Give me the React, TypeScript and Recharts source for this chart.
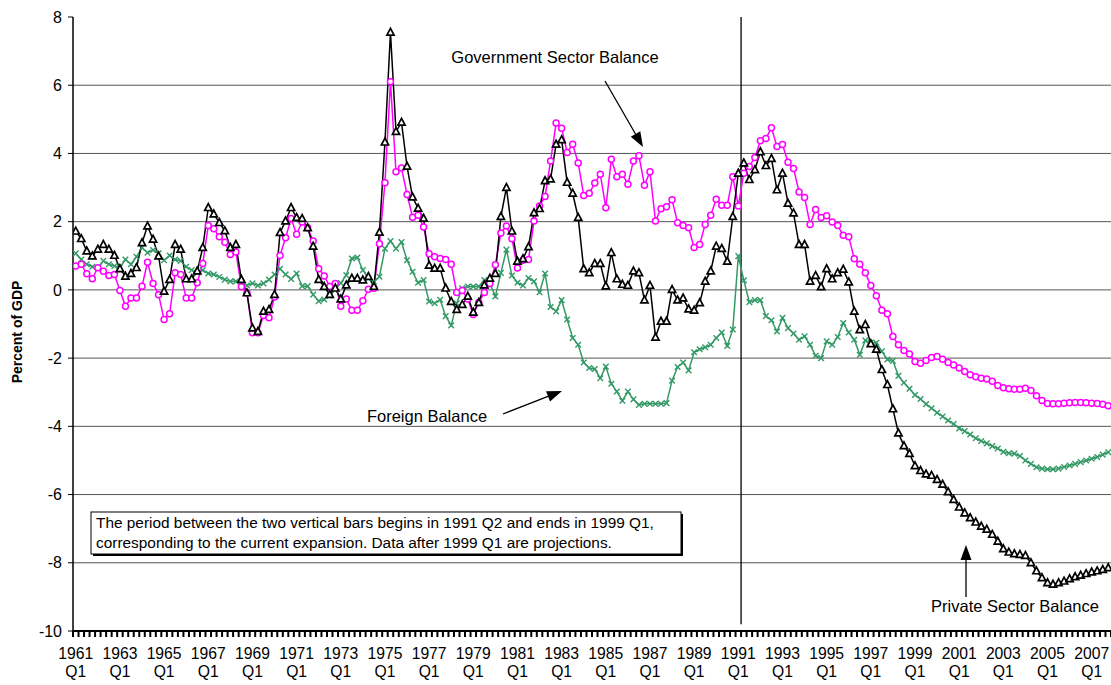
import React from 'react'
import { LineChart, Line, XAxis, YAxis, CartesianGrid, ReferenceLine } from 'recharts'

// Quarterly sector balances, percent of GDP, 1961 Q1 .. 2007 Q4
const START_YEAR = 1961

const PRIVATE_BALANCE = [
  1.72, 1.5, 1.14, 0.99, 1.19, 1.33, 1.19, 1.01, 0.62, 0.4, 0.48, 0.65, 1.38, 1.87, 1.48, 0.99,
  -0.04, 0.3, 1.33, 1.19, 0.32, 0.32, 0.55, 1.24, 2.41, 2.22, 1.97, 1.73, 1.24, 1.33, 0.3, -0.09,
  -1.12, -1.22, -0.63, -0.58, -0.14, 1.68, 2.02, 2.41, 2.12, 2.09, 1.82, 1.28, 0.3, 0.1, -0.14, 0.05,
  -0.27, 0.14, 0.34, 0.34, 0.29, 0.39, 0.1, 1.69, 4.33, 7.55, 4.64, 4.91, 3.62, 2.72, 2.39, 2.1,
  0.72, 0.63, 0.63, 0.05, -0.34, -0.58, -0.43, -0.19, -0.66, -0.37, 0.14, 0.34, 0.48, 2.15, 3.0, 1.72,
  0.84, 0.91, 1.26, 2.26, 2.38, 3.2, 3.25, 4.27, 4.4, 3.15, 2.83, 2.12, 0.62, 0.5, 0.77, 0.77,
  0.11, 1.09, 0.32, 0.16, 0.13, 0.55, 0.5, -0.3, 0.13, -1.39, -0.92, -0.92, 0.01, -0.3, -0.24, -0.56,
  -0.6, -0.38, 0.25, 0.55, 1.28, 1.21, 0.84, 2.15, 3.42, 3.72, 3.23, 3.52, 4.05, 3.64, 3.85, 2.93,
  3.42, 2.54, 2.25, 1.33, 1.33, 0.25, 0.42, 0.09, 0.62, 0.32, 0.5, 0.6, 0.23, -0.63, -1.17, -1.02,
  -1.58, -1.74, -2.34, -2.78, -3.49, -4.2, -4.57, -4.8, -5.16, -5.3, -5.4, -5.44, -5.56, -5.7, -5.92, -6.15,
  -6.37, -6.54, -6.68, -6.81, -6.93, -7.02, -7.17, -7.37, -7.59, -7.69, -7.74, -7.76, -7.79, -8.0, -8.24, -8.44,
  -8.59, -8.63, -8.59, -8.54, -8.47, -8.41, -8.37, -8.32, -8.27, -8.24, -8.2, -8.15,
]

const GOVERNMENT_BALANCE = [
  0.7, 0.75, 0.47, 0.33, 0.65, 0.55, 0.42, 0.45, -0.02, -0.48, -0.24, -0.24, 0.11, 0.81, 0.19, -0.14,
  -0.87, -0.7, 0.5, 0.45, -0.24, -0.24, 0.21, 0.77, 1.89, 1.79, 1.56, 1.4, 1.04, 1.11, 0.09, -0.09,
  -1.26, -1.26, -0.75, -0.82, -0.21, 1.01, 1.53, 2.09, 1.63, 1.99, 1.82, 1.43, 0.62, 0.41, 0.1, 0.19,
  -0.48, -0.27, -0.6, -0.6, -0.32, 0.02, 0.05, 1.35, 3.14, 6.1, 3.46, 3.57, 2.8, 2.13, 2.19, 1.84,
  1.06, 0.97, 0.92, 0.89, 0.75, -0.08, -0.02, -0.27, -0.72, -0.37, -0.08, 0.19, 0.74, 1.67, 1.87, 1.5,
  0.64, 0.87, 0.89, 2.02, 2.46, 2.74, 3.78, 4.89, 4.74, 4.03, 4.27, 3.72, 2.77, 2.83, 3.13, 3.39,
  2.41, 3.83, 3.32, 3.39, 3.1, 3.78, 3.93, 3.07, 3.46, 2.02, 2.38, 2.44, 2.64, 1.97, 1.89, 1.82,
  1.24, 1.33, 1.92, 2.19, 2.66, 2.48, 2.48, 3.32, 2.46, 3.42, 3.62, 3.88, 4.37, 4.44, 4.75, 4.2,
  4.26, 3.74, 3.56, 2.87, 2.71, 1.92, 2.36, 2.12, 2.17, 1.99, 1.89, 1.6, 1.56, 0.91, 0.75, 0.5,
  0.13, -0.17, -0.6, -0.7, -1.37, -1.61, -1.78, -1.88, -2.1, -2.15, -2.07, -1.98, -1.95, -2.03, -2.13, -2.2,
  -2.29, -2.39, -2.49, -2.55, -2.59, -2.61, -2.68, -2.8, -2.87, -2.9, -2.91, -2.91, -2.88, -2.95, -3.1, -3.24,
  -3.33, -3.34, -3.34, -3.32, -3.31, -3.3, -3.3, -3.31, -3.32, -3.33, -3.35, -3.4,
]

const FOREIGN_BALANCE = [
  1.07, 0.89, 0.75, 0.68, 0.62, 0.85, 0.75, 0.7, 0.66, 0.89, 0.75, 0.97, 1.24, 1.09, 1.17, 1.07,
  0.87, 1.01, 0.89, 0.85, 0.68, 0.58, 0.5, 0.58, 0.48, 0.45, 0.38, 0.3, 0.25, 0.25, 0.21, 0.13,
  0.19, 0.13, 0.19, 0.3, 0.45, 0.62, 0.45, 0.32, 0.48, 0.11, 0.11, -0.14, -0.33, -0.28, -0.17, 0.02,
  0.2, 0.43, 0.92, 0.95, 0.58, 0.34, 0.24, 0.39, 1.21, 1.43, 1.21, 1.4, 0.87, 0.53, 0.21, 0.29,
  -0.34, -0.39, -0.29, -0.77, -1.04, -0.39, 0.05, 0.1, 0.1, 0.1, 0.29, 0.19, -0.19, 0.5, 1.18, 0.42,
  0.21, 0.13, 0.35, 0.25, -0.07, 0.48, -0.5, -0.63, -0.3, -0.87, -1.41, -1.61, -2.13, -2.29, -2.32, -2.59,
  -2.25, -2.75, -2.98, -3.25, -2.98, -3.21, -3.37, -3.34, -3.34, -3.34, -3.34, -3.32, -2.66, -2.26, -2.13, -2.36,
  -1.83, -1.74, -1.68, -1.61, -1.41, -1.25, -1.64, -1.16, 0.99, 0.28, -0.36, -0.3, -0.3, -0.77, -0.89, -1.22,
  -0.82, -1.12, -1.28, -1.46, -1.36, -1.61, -1.93, -2.0, -1.51, -1.61, -1.38, -0.97, -1.25, -1.46, -1.9, -1.48,
  -1.54, -1.55, -1.8, -2.04, -2.08, -2.52, -2.72, -2.9, -3.08, -3.2, -3.35, -3.47, -3.6, -3.71, -3.83, -3.93,
  -4.06, -4.14, -4.24, -4.35, -4.43, -4.5, -4.58, -4.65, -4.75, -4.79, -4.8, -4.87, -5.0, -5.1, -5.2, -5.24,
  -5.26, -5.26, -5.24, -5.19, -5.15, -5.1, -5.05, -5.0, -4.95, -4.9, -4.83, -4.76,
]

const LABEL_YEARS = [
  1961, 1963, 1965, 1967, 1969, 1971, 1973, 1975, 1977, 1979, 1981, 1983,
  1985, 1987, 1989, 1991, 1993, 1995, 1997, 1999, 2001, 2003, 2005, 2007,
]
const Y_TICKS = [-10, -8, -6, -4, -2, 0, 2, 4, 6, 8]
const GRID_VALUES = [-8, -6, -4, -2, 0, 2, 4, 6]
// first quarter of the expansion (1991 Q2) -> bar sits on its left edge
const EXPANSION_START_INDEX = 121

const N = PRIVATE_BALANCE.length
const quarters = PRIVATE_BALANCE.map(
  (_, i) => `${START_YEAR + Math.floor(i / 4)} Q${(i % 4) + 1}`
)
const data = quarters.map((q, i) => ({
  t: i,
  q,
  priv: PRIVATE_BALANCE[i],
  gov: GOVERNMENT_BALANCE[i],
  foreign: FOREIGN_BALANCE[i],
}))
// tick marks sit between quarters, like a category axis
const boundaries = Array.from({ length: N + 1 }, (_, i) => i - 0.5)

const W = 1111
const H = 685
const LEFT = 73
const PLOT_W = W - LEFT
const HALF = PLOT_W / N / 2
const FONT = '"Liberation Sans", Arial, Helvetica, sans-serif'

const GREEN = '#339966'
const MAGENTA = '#ff00ff'

function QuarterTick(props: any) {
  const { x, y, payload } = props
  const start = payload.value + 0.5
  const year = LABEL_YEARS.find((yr) => (yr - START_YEAR) * 4 === start)
  if (year === undefined) return <g />
  const cx = x + HALF
  return (
    <text textAnchor="middle" fontSize={15.7} fill="#000" fontFamily={FONT}>
      <tspan x={cx} y={y + 22}>{year}</tspan>
      <tspan x={cx} y={y + 40}>Q1</tspan>
    </text>
  )
}

const triangleDot = (p: any) => {
  const { cx, cy, index } = p
  if (cx == null || cy == null) return <g key={`tr${index}`} />
  return (
    <polygon
      key={`tr${index}`}
      points={`${cx},${cy - 4} ${cx - 3.6},${cy + 2.8} ${cx + 3.6},${cy + 2.8}`}
      fill="#fff"
      stroke="#000"
      strokeWidth={1.7}
    />
  )
}

const circleDot = (p: any) => {
  const { cx, cy, index } = p
  if (cx == null || cy == null) return <g key={`ci${index}`} />
  return <circle key={`ci${index}`} cx={cx} cy={cy} r={3} fill="#fff" stroke={MAGENTA} strokeWidth={1.5} />
}

const crossDot = (p: any) => {
  const { cx, cy, index } = p
  if (cx == null || cy == null) return <g key={`cr${index}`} />
  const s = 2.8
  return (
    <path
      key={`cr${index}`}
      d={`M${cx - s},${cy - s}L${cx + s},${cy + s}M${cx - s},${cy + s}L${cx + s},${cy - s}`}
      stroke={GREEN}
      strokeWidth={1.4}
      fill="none"
    />
  )
}

function Arrow({ x1, y1, x2, y2 }: { x1: number; y1: number; x2: number; y2: number }) {
  const dx = x2 - x1
  const dy = y2 - y1
  const len = Math.hypot(dx, dy)
  const ux = dx / len
  const uy = dy / len
  const hl = 15
  const hw = 5.5
  const bx = x2 - ux * hl
  const by = y2 - uy * hl
  return (
    <g>
      <line x1={x1} y1={y1} x2={bx} y2={by} stroke="#000" strokeWidth={1.3} />
      <polygon
        points={`${x2},${y2} ${bx - uy * hw},${by + ux * hw} ${bx + uy * hw},${by - ux * hw}`}
        fill="#000"
      />
    </g>
  )
}

export default function App() {
  return (
    <div style={{ position: 'absolute', left: 0, top: 0, width: W, height: H, background: '#fff', fontFamily: FONT }}>
      <LineChart width={W} height={H} data={data} margin={{ top: 17, right: 0, bottom: 0, left: 0 }}>
        <CartesianGrid vertical={false} horizontalValues={GRID_VALUES} stroke="#555" strokeWidth={1} />
        <XAxis
          type="number"
          dataKey="t"
          domain={[-0.5, N - 0.5]}
          ticks={boundaries}
          interval={0}
          allowDataOverflow
          height={54}
          tickSize={6}
          tickMargin={0}
          axisLine={{ stroke: '#000', strokeWidth: 2 }}
          tickLine={{ stroke: '#000', strokeWidth: 2 }}
          tick={<QuarterTick />}
        />
        <YAxis
          type="number"
          domain={[-10, 8]}
          ticks={Y_TICKS}
          interval={0}
          width={LEFT}
          tickSize={5}
          tickMargin={6}
          axisLine={{ stroke: '#000', strokeWidth: 1.5 }}
          tickLine={{ stroke: '#000', strokeWidth: 1 }}
          tick={{ fill: '#000', fontSize: 16, fontFamily: FONT }}
        />
        <ReferenceLine
          segment={[
            { x: EXPANSION_START_INDEX - 0.5, y: 8 },
            { x: EXPANSION_START_INDEX - 0.5, y: -9.8 },
          ]}
          stroke="#000"
          strokeWidth={1.3}
        />
        <Line dataKey="foreign" stroke={GREEN} strokeWidth={1.5} dot={crossDot} isAnimationActive={false} />
        <Line dataKey="gov" stroke={MAGENTA} strokeWidth={1.5} dot={circleDot} isAnimationActive={false} />
        <Line dataKey="priv" stroke="#000" strokeWidth={1.5} dot={triangleDot} isAnimationActive={false} />
      </LineChart>

      <svg
        width={W}
        height={H}
        style={{ position: 'absolute', left: 0, top: 0, pointerEvents: 'none' }}
        fontFamily={FONT}
      >
        <text
          x={0}
          y={0}
          transform="translate(22, 332) rotate(-90)"
          textAnchor="middle"
          fontSize={14}
          fontWeight="bold"
          fill="#000"
        >
          Percent of GDP
        </text>

        <text x={555} y={63} textAnchor="middle" fontSize={16.5} fill="#000">
          Government Sector Balance
        </text>
        <Arrow x1={605} y1={81} x2={643} y2={147} />

        <text x={427} y={422} textAnchor="middle" fontSize={16.5} fill="#000">
          Foreign Balance
        </text>
        <Arrow x1={503} y1={414} x2={562} y2={391} />

        <text x={1015} y={612} textAnchor="middle" fontSize={16.5} fill="#000">
          Private Sector Balance
        </text>
        <Arrow x1={966} y1={597} x2={966} y2={545} />

        <rect x={93} y={514} width={590} height={42} fill="#000" />
        <rect x={91} y={512} width={590} height={42} fill="#fff" stroke="#000" strokeWidth={1} />
        <text x={96} y={528} fontSize={15.4} fill="#000">
          The period between the two vertical bars begins in 1991 Q2 and ends in 1999 Q1,
        </text>
        <text x={96} y={548} fontSize={15.4} fill="#000">
          corresponding to the current expansion. Data after 1999 Q1 are projections.
        </text>
      </svg>
    </div>
  )
}
